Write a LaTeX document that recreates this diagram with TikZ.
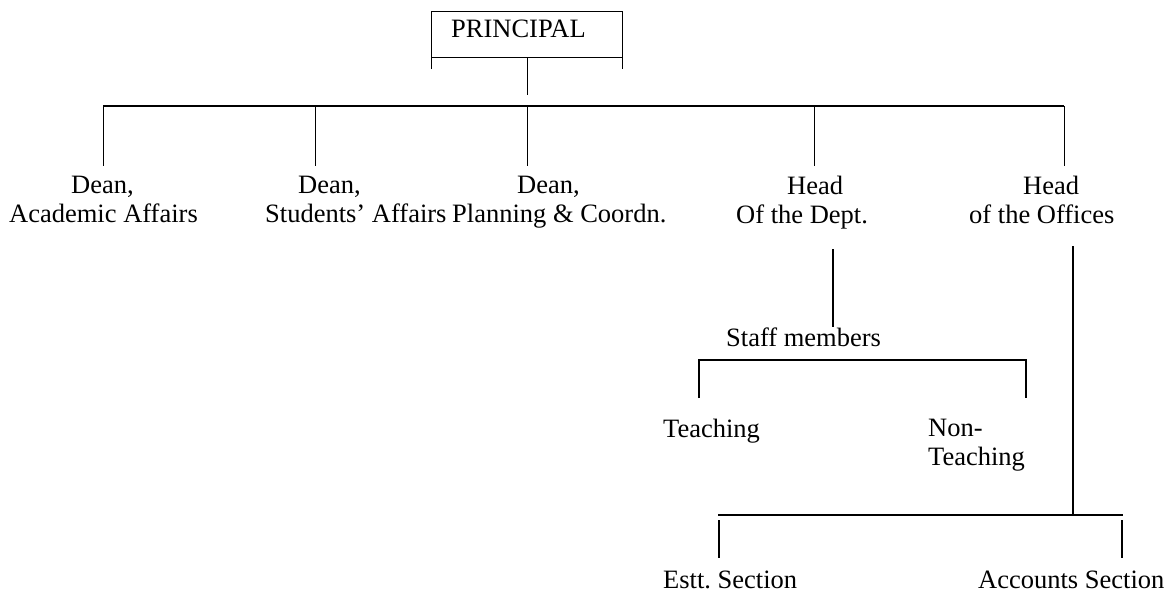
\documentclass[tikz,border=0pt]{standalone}
\usepackage{fontspec}
\setmainfont{Liberation Serif}
\usetikzlibrary{positioning}

\tikzset{
	lbl/.style={inner sep=0pt, font=\fontsize{26.5}{29}\selectfont},
	head/.style={lbl, anchor=north west, align=left},
	thin/.style={line width=1pt},
	bar/.style={line width=2pt},
	stem/.style={line width=1.4pt},
}

\begin{document}
\begin{tikzpicture}[x=1pt, y=-1pt]
			\useasboundingbox (0,0) rectangle (1173,592);
			
			% principal
			\node[lbl, anchor=base west] (prin) at (451,37) {PRINCIPAL};
			\coordinate (ptl) at (431,11);
			\coordinate (ptr) at (622,11);
			\coordinate (pbl) at (431,69);
			\coordinate (pbr) at (622,69);
			\coordinate (pml) at (431,57);
			\coordinate (pmr) at (622,57);
			\coordinate (pmid) at (527,57);
			\coordinate (ptail) at (527,95);
			\draw[thin] (pbl) -- (ptl) -- (ptr) -- (pbr);
			\draw[thin] (pml) -- (pmr);
			\draw[thin] (pmid) -- (ptail);
			
			% main bar
			\coordinate (b1) at (103,106);
			\coordinate (b2) at (315,106);
			\coordinate (b3) at (527,106);
			\coordinate (b4) at (814,106);
			\coordinate (b5) at (1064,106);
			\draw[bar] (b1) -- (b5);
			
			\node[head] (acad) at (9,176) {\hspace*{62pt}Dean,\\Academic Affairs};
			\node[head] (stud) at (265,176) {\hspace*{33pt}Dean,\\Students’ Affairs};
			\node[head] (plan) at (452,176) {\hspace*{65pt}Dean,\\Planning \& Coordn.};
			\node[head] (dept) at (736,176) {\hspace*{51pt}Head\\Of the Dept.};
			\node[head] (offc) at (969,176) {\hspace*{54pt}Head\\of the Offices};
			
			\draw[thin, shorten >=10pt] (b1) -- (b1 |- acad.north);
			\draw[thin, shorten >=10pt] (b2) -- (b2 |- stud.north);
			\draw[thin, shorten >=10pt] (b3) -- (b3 |- plan.north);
			\draw[thin, shorten >=10pt] (b4) -- (b4 |- dept.north);
			\draw[thin, shorten >=10pt] (b5) -- (b5 |- offc.north);
			
			% department staff
			\node[lbl, anchor=base west] (staff) at (726,346) {Staff members};
			\coordinate (dtop) at (833,249);
			\draw[stem] (dtop) -- (dtop |- staff.north);
			
			\coordinate (sl) at (699,360);
			\coordinate (sr) at (1026,360);
			\node[lbl, anchor=base west] (teach) at (663,437) {Teaching};
			\node[lbl, anchor=north west, align=left] (nonteach) at (928,419) {Non-\\Teaching};
			\coordinate (slb) at (699,398);
			\coordinate (srb) at (1026,398);
			\draw[stem] (slb) -- (sl) -- (sr) -- (srb);
			
			% offices
			\coordinate (otop) at (1073,246);
			\coordinate (ojoin) at (1073,515);
			\coordinate (ol) at (718,515);
			\coordinate (or) at (1123,515);
			\draw[stem] (otop) -- (ojoin);
			\draw[stem] (ol) -- (or);
			
			\node[lbl, anchor=base west] (estt) at (663,588) {Estt.\ Section};
			\node[lbl, anchor=base west] (acct) at (978,588) {Accounts Section};
			\coordinate (et) at (719,520);
			\coordinate (acb) at (1122,520);
			\draw[stem, shorten >=12pt] (et) -- (et |- estt.north);
			\draw[stem, shorten >=12pt] (acb) -- (acb |- acct.north);
			
\end{tikzpicture}
\end{document}
